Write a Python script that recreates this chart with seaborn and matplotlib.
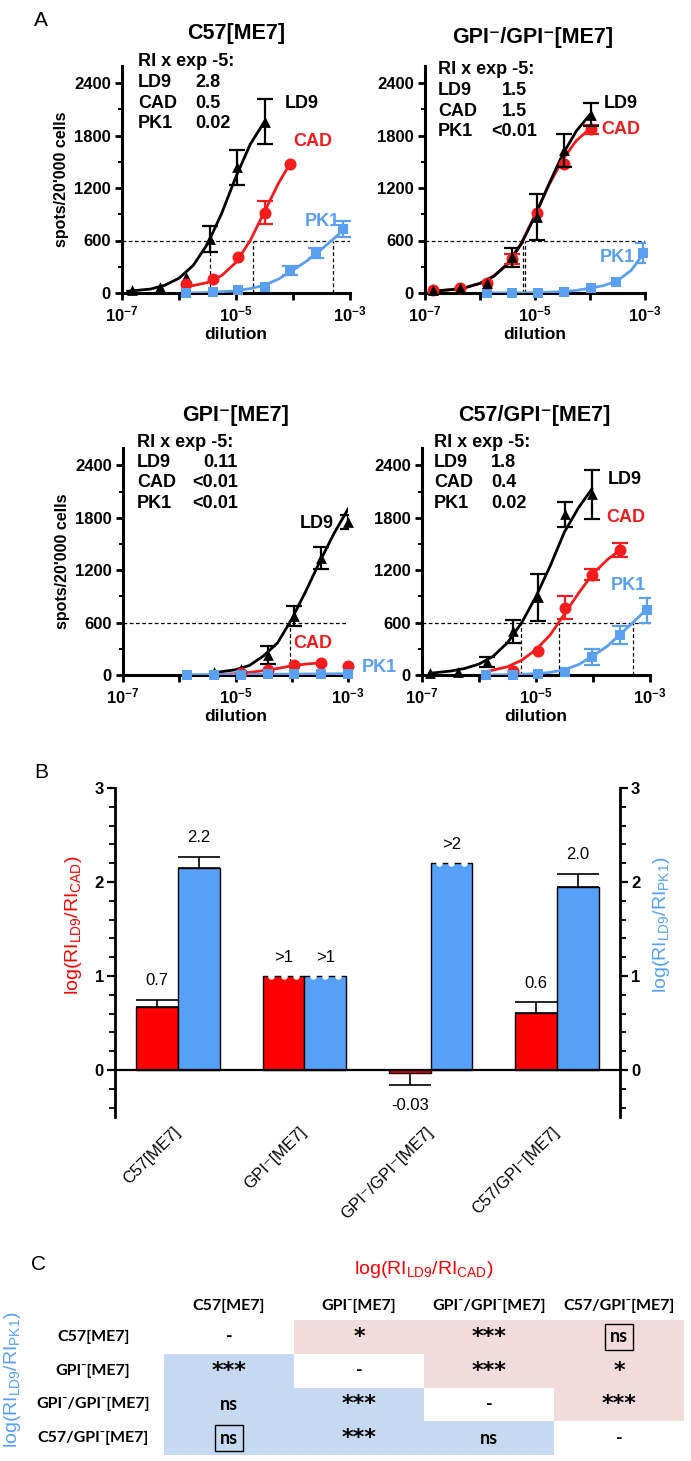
import numpy as np
import pandas as pd
import seaborn as sns
import matplotlib.pyplot as plt
from matplotlib.colors import ListedColormap
from matplotlib.ticker import MultipleLocator, FixedLocator, LogLocator, NullFormatter

# ---------------- Panel A: dose response (x = log10 dilution, y = spots/20'000 cells)
# C57[ME7]
C57_LD9_X = [-6.83, -6.34, -5.88, -5.45, -4.98, -4.50]
C57_LD9_Y = [40, 70, 180, 620, 1440, 1960]
C57_LD9_ERR = [0, 0, 0, 150, 200, 260]
C57_LD9_FIT_X = [-6.9, -6.5, -6.25, -6.0, -5.75, -5.5, -5.25, -5.0, -4.75, -4.5]
C57_LD9_FIT_Y = [20, 45, 88, 169, 316, 559, 912, 1330, 1700, 1960]
C57_CAD_X = [-5.88, -5.41, -4.96, -4.50, -4.05]
C57_CAD_Y = [100, 160, 410, 920, 1480]
C57_CAD_ERR = [0, 0, 0, 130, 0]
C57_CAD_FIT_X = [-5.9, -5.75, -5.5, -5.25, -5.0, -4.75, -4.5, -4.25, -4.05]
C57_CAD_FIT_Y = [95, 85, 120, 200, 350, 600, 930, 1260, 1480]
C57_PK1_X = [-5.88, -5.41, -4.97, -4.50, -4.05, -3.59, -3.12]
C57_PK1_Y = [0, 10, 30, 65, 260, 460, 730]
C57_PK1_ERR = [0, 0, 0, 0, 50, 55, 90]
C57_PK1_FIT_X = [-5.9, -5.5, -5.0, -4.75, -4.5, -4.25, -4.0, -3.75, -3.5, -3.25, -3.12]
C57_PK1_FIT_Y = [0, 5, 25, 50, 90, 160, 260, 370, 500, 640, 720]
C57_CROSS = [-5.45, -4.70, -3.30]
C57_RI = ['2.8', '0.5', '0.02']

# GPI-/GPI-[ME7]
GG_LD9_X = [-6.86, -6.37, -5.88, -5.41, -4.96, -4.48, -3.99]
GG_LD9_Y = [30, 55, 110, 410, 870, 1630, 2040]
GG_LD9_ERR = [0, 0, 0, 110, 260, 190, 135]
GG_LD9_FIT_X = [-6.86, -6.5, -6.25, -6.0, -5.75, -5.5, -5.25, -5.0, -4.75, -4.5, -4.25, -4.0]
GG_LD9_FIT_Y = [20, 40, 65, 110, 190, 330, 560, 880, 1240, 1580, 1850, 2040]
GG_CAD_X = [-6.86, -6.37, -5.88, -5.41, -4.96, -4.48, -3.99]
GG_CAD_Y = [30, 55, 120, 390, 920, 1480, 1870]
GG_CAD_ERR = [0, 0, 0, 60, 0, 0, 50]
GG_CAD_FIT_X = [-6.86, -6.5, -6.25, -6.0, -5.75, -5.5, -5.25, -5.0, -4.75, -4.5, -4.25, -4.0]
GG_CAD_FIT_Y = [20, 40, 65, 110, 195, 335, 570, 890, 1230, 1520, 1740, 1880]
GG_PK1_X = [-5.88, -5.41, -4.95, -4.48, -3.99, -3.52, -3.04]
GG_PK1_Y = [0, 0, 0, 15, 55, 125, 460]
GG_PK1_ERR = [0, 0, 0, 0, 0, 0, 115]
GG_PK1_FIT_X = [-5.9, -5.0, -4.5, -4.25, -4.0, -3.75, -3.5, -3.25, -3.04]
GG_PK1_FIT_Y = [0, 3, 15, 30, 55, 85, 140, 260, 440]
GG_CROSS = [-5.22, -5.18]
GG_RI = ['1.5', '1.5', '<0.01']

# GPI-[ME7]
GPI_LD9_X = [-5.39, -4.91, -4.43, -3.96, -3.48, -3.0]
GPI_LD9_Y = [40, 70, 230, 680, 1340, 1750]
GPI_LD9_ERR = [0, 0, 100, 115, 130, 80]
GPI_LD9_FIT_X = [-5.4, -5.0, -4.75, -4.5, -4.25, -4.0, -3.75, -3.5, -3.25, -3.0]
GPI_LD9_FIT_Y = [25, 60, 110, 220, 370, 640, 960, 1300, 1620, 1900]
GPI_CAD_X = [-4.91, -4.43, -3.96, -3.48, -3.0]
GPI_CAD_Y = [25, 55, 115, 140, 105]
GPI_CAD_ERR = [0, 0, 0, 0, 0]
GPI_CAD_FIT_X = [-5.4, -5.0, -4.75, -4.5, -4.25, -4.0, -3.75, -3.48]
GPI_CAD_FIT_Y = [5, 15, 30, 50, 75, 105, 125, 140]
GPI_PK1_X = [-5.86, -5.39, -4.91, -4.43, -3.96, -3.48, -3.0]
GPI_PK1_Y = [0, 5, 5, 10, 10, 15, 15]
GPI_PK1_ERR = [0, 0, 0, 0, 0, 0, 0]
GPI_PK1_FIT_X = [-5.86, -4.5, -3.0]
GPI_PK1_FIT_Y = [3, 8, 15]
GPI_CROSS = [-4.04]
GPI_RI = ['0.11', '<0.01', '<0.01']

# C57/GPI-[ME7]
CG_LD9_X = [-6.86, -6.37, -5.86, -5.40, -4.96, -4.49, -4.02]
CG_LD9_Y = [25, 40, 150, 500, 890, 1840, 2070]
CG_LD9_ERR = [0, 0, 55, 135, 270, 140, 280]
CG_LD9_FIT_X = [-6.86, -6.5, -6.25, -6.0, -5.75, -5.5, -5.25, -5.0, -4.75, -4.5, -4.25, -4.02]
CG_LD9_FIT_Y = [20, 45, 75, 125, 215, 370, 600, 900, 1250, 1640, 1920, 2130]
CG_CAD_X = [-5.40, -4.96, -4.49, -4.02, -3.53]
CG_CAD_Y = [45, 270, 770, 1150, 1430]
CG_CAD_ERR = [0, 0, 130, 60, 80]
CG_CAD_FIT_X = [-5.86, -5.5, -5.25, -5.0, -4.75, -4.5, -4.25, -4.0, -3.75, -3.53]
CG_CAD_FIT_Y = [40, 95, 170, 290, 460, 700, 940, 1160, 1320, 1430]
CG_PK1_X = [-5.88, -5.40, -4.96, -4.49, -4.02, -3.53, -3.05]
CG_PK1_Y = [0, 0, 10, 40, 210, 460, 740]
CG_PK1_ERR = [0, 0, 0, 0, 90, 100, 140]
CG_PK1_FIT_X = [-5.88, -5.5, -5.0, -4.75, -4.5, -4.25, -4.0, -3.75, -3.5, -3.3, -3.05]
CG_PK1_FIT_Y = [0, 3, 15, 30, 60, 120, 220, 330, 480, 600, 760]
CG_CROSS = [-5.26, -4.60, -3.30]
CG_RI = ['1.8', '0.4', '0.02']

# ---------------- Panel B
BAR_STRAINS = ['C57[ME7]', 'GPI⁻[ME7]', 'GPI⁻/GPI⁻[ME7]', 'C57/GPI⁻[ME7]']
LOG_LD9_CAD = [0.67, 1.0, -0.03, 0.61]
LOG_LD9_CAD_ERR = [0.08, 0.0, 0.13, 0.11]
LOG_LD9_CAD_TEXT = ['0.7', '>1', '-0.03', '0.6']
LOG_LD9_CAD_MIN = [False, True, False, False]
LOG_LD9_PK1 = [2.15, 1.0, 2.2, 1.95]
LOG_LD9_PK1_ERR = [0.12, 0.0, 0.0, 0.14]
LOG_LD9_PK1_TEXT = ['2.2', '>1', '>2', '2.0']
LOG_LD9_PK1_MIN = [False, True, True, False]

# ---------------- Panel C
TABLE_STRAINS = ['C57[ME7]', 'GPI⁻[ME7]', 'GPI⁻/GPI⁻[ME7]', 'C57/GPI⁻[ME7]']
TABLE_SIG = [['-', '*', '***', 'ns'],
             ['***', '-', '***', '*'],
             ['ns', '***', '-', '***'],
             ['ns', '***', 'ns', '-']]
TABLE_SIDE = [[0, 1, 1, 1],
              [2, 0, 1, 1],
              [2, 2, 0, 1],
              [2, 2, 2, 0]]
TABLE_BOXED = [(0, 3), (3, 0)]

RED = '#f41c1c'
BLUE = '#5a9ff0'
BAR_RED = '#ff0000'
BAR_BLUE = '#57a0f7'
W, H = 691, 1461

plt.rcParams['font.family'] = ['Liberation Sans', 'DejaVu Sans']
plt.rcParams['mathtext.fontset'] = 'custom'
plt.rcParams['mathtext.rm'] = 'Liberation Sans'
plt.rcParams['mathtext.it'] = 'Liberation Sans:italic'
plt.rcParams['mathtext.bf'] = 'Liberation Sans:bold'
plt.rcParams['mathtext.sf'] = 'Liberation Sans'

fig = plt.figure(figsize=(W / 100, H / 100), dpi=100)


def rect(l, t, r, b):
    return [l / W, 1 - b / H, (r - l) / W, (b - t) / H]


def ftext(x, y, s, **kw):
    kw.setdefault('ha', 'center')
    kw.setdefault('va', 'center')
    fig.text(x / W, 1 - y / H, s, **kw)


STYLE = {'LD9': ('black', '^', 60), 'CAD': (RED, 'o', 75), 'PK1': (BLUE, 's', 60)}

PANELS = [
    dict(box=(122, 65.5, 350, 293), title='C57[ME7]', title_xy=(236, 34), ri=C57_RI,
         ri_xy=(138, 62), ri_vx=195, ri_ha='left', cross=C57_CROSS, ylabel=True,
         lab={'LD9': (302, 103), 'CAD': (313, 142), 'PK1': (322, 222)},
         series=[('LD9', C57_LD9_X, C57_LD9_Y, C57_LD9_ERR, C57_LD9_FIT_X, C57_LD9_FIT_Y),
                 ('CAD', C57_CAD_X, C57_CAD_Y, C57_CAD_ERR, C57_CAD_FIT_X, C57_CAD_FIT_Y),
                 ('PK1', C57_PK1_X, C57_PK1_Y, C57_PK1_ERR, C57_PK1_FIT_X, C57_PK1_FIT_Y)]),
    dict(box=(425, 65.5, 645, 293), title='GPI⁻/GPI⁻[ME7]', title_xy=(533, 37), ri=GG_RI,
         ri_xy=(438, 70), ri_vx=514, ri_ha='center', cross=GG_CROSS, ylabel=False,
         lab={'LD9': (621, 103), 'CAD': (621, 130), 'PK1': (617, 257)},
         series=[('PK1', GG_PK1_X, GG_PK1_Y, GG_PK1_ERR, GG_PK1_FIT_X, GG_PK1_FIT_Y),
                 ('CAD', GG_CAD_X, GG_CAD_Y, GG_CAD_ERR, GG_CAD_FIT_X, GG_CAD_FIT_Y),
                 ('LD9', GG_LD9_X, GG_LD9_Y, GG_LD9_ERR, GG_LD9_FIT_X, GG_LD9_FIT_Y)]),
    dict(box=(123, 448, 348, 675), title='GPI⁻[ME7]', title_xy=(236, 415), ri=GPI_RI,
         ri_xy=(137, 442), ri_vx=238, ri_ha='right', cross=GPI_CROSS, ylabel=True,
         lab={'LD9': (317, 523), 'CAD': (313, 644), 'PK1': (379, 667)},
         series=[('LD9', GPI_LD9_X, GPI_LD9_Y, GPI_LD9_ERR, GPI_LD9_FIT_X, GPI_LD9_FIT_Y),
                 ('CAD', GPI_CAD_X, GPI_CAD_Y, GPI_CAD_ERR, GPI_CAD_FIT_X, GPI_CAD_FIT_Y),
                 ('PK1', GPI_PK1_X, GPI_PK1_Y, GPI_PK1_ERR, GPI_PK1_FIT_X, GPI_PK1_FIT_Y)]),
    dict(box=(422, 448, 650, 675), title='C57/GPI⁻[ME7]', title_xy=(534, 415), ri=CG_RI,
         ri_xy=(434, 442), ri_vx=491, ri_ha='left', cross=CG_CROSS, ylabel=False,
         lab={'LD9': (625, 480), 'CAD': (626, 517), 'PK1': (628, 586)},
         series=[('LD9', CG_LD9_X, CG_LD9_Y, CG_LD9_ERR, CG_LD9_FIT_X, CG_LD9_FIT_Y),
                 ('CAD', CG_CAD_X, CG_CAD_Y, CG_CAD_ERR, CG_CAD_FIT_X, CG_CAD_FIT_Y),
                 ('PK1', CG_PK1_X, CG_PK1_Y, CG_PK1_ERR, CG_PK1_FIT_X, CG_PK1_FIT_Y)]),
]

dash = (0, (3, 2))
for p in PANELS:
    ax = fig.add_axes(rect(*p['box']))
    ax.set_xscale('log')
    for name, px, py, pe, fx, fy in p['series']:
        color, marker, size = STYLE[name]
        sns.lineplot(x=10.0 ** np.array(fx), y=fy, ax=ax, color=color, linewidth=2, zorder=3)
        sns.scatterplot(x=10.0 ** np.array(px), y=py, ax=ax, color=color, marker=marker,
                        s=size, linewidth=0, zorder=4, clip_on=False)
        pe = np.array(pe)
        m = pe > 0
        if m.any():
            ax.errorbar(10.0 ** np.array(px)[m], np.array(py)[m], yerr=pe[m], fmt='none',
                        ecolor=color, elinewidth=1.6, capsize=6, capthick=1.6, zorder=4)
    ax.axhline(600, color='black', lw=0.9, ls=dash, zorder=1)
    ax.vlines(10.0 ** np.array(p['cross']), 0, 600, colors='black', lw=0.9,
              linestyles=dash, zorder=1)
    ax.set_xlim(1e-7, 1e-3)
    ax.set_ylim(0, 2600)
    ax.set_yticks([0, 600, 1200, 1800, 2400], labels=['0', '600', '1200', '1800', '2400'],
                  fontweight='bold')
    ax.yaxis.set_minor_locator(MultipleLocator(300))
    ax.xaxis.set_major_locator(FixedLocator([1e-7, 1e-6, 1e-5, 1e-4, 1e-3]))
    ax.set_xticklabels([r'$\mathbf{10^{-7}}$', '', r'$\mathbf{10^{-5}}$', '', r'$\mathbf{10^{-3}}$'])
    ax.xaxis.set_minor_locator(LogLocator(base=10, subs=[2, 3, 4, 5, 6, 7, 8, 9]))
    ax.xaxis.set_minor_formatter(NullFormatter())
    for s in ['top', 'right']:
        ax.spines[s].set_visible(False)
    for s in ['left', 'bottom']:
        ax.spines[s].set_linewidth(2.2)
    ax.tick_params(which='major', length=5, width=2, labelsize=12, pad=3)
    ax.tick_params(which='minor', length=3, width=1.4)
    ax.set_xlabel('dilution', fontsize=12.5, fontweight='bold', labelpad=2)
    if p['ylabel']:
        ax.set_ylabel("spots/20'000 cells", fontsize=11.5, fontweight='bold', labelpad=4)
    else:
        ax.set_ylabel('')

    tx, ty = p['title_xy']
    ftext(tx, ty, p['title'], fontsize=15.5, fontweight='bold')
    rx, ry = p['ri_xy']
    ftext(rx, ry, 'RI x exp -5:', ha='left', fontsize=13, fontweight='bold')
    for k, (name, val) in enumerate(zip(['LD9', 'CAD', 'PK1'], p['ri'])):
        yy = ry + 20.5 * (k + 1)
        ftext(rx, yy, name, ha='left', fontsize=13, fontweight='bold')
        ftext(p['ri_vx'], yy, val, ha=p['ri_ha'], fontsize=13, fontweight='bold')
    for name, (lx, ly) in p['lab'].items():
        ftext(lx, ly, name, color=STYLE[name][0], fontsize=13, fontweight='bold')

ftext(41, 20, 'A', fontsize=15)
ftext(41, 773, 'B', fontsize=15)
ftext(39, 1265, 'C', fontsize=15)

# ---------------- Panel B
axB = fig.add_axes(rect(115, 788, 620, 1117))
bar_df = pd.DataFrame({
    'strain': BAR_STRAINS * 2,
    'ratio': ['LD9/CAD'] * 4 + ['LD9/PK1'] * 4,
    'value': LOG_LD9_CAD + LOG_LD9_PK1,
})
sns.barplot(data=bar_df, x='strain', y='value', hue='ratio', order=BAR_STRAINS,
            hue_order=['LD9/CAD', 'LD9/PK1'], palette=[BAR_RED, BAR_BLUE], saturation=1,
            width=0.66, edgecolor='black', linewidth=1, errorbar=None, legend=False,
            ax=axB, zorder=2)
vals = (LOG_LD9_CAD, LOG_LD9_PK1)
errs = (LOG_LD9_CAD_ERR, LOG_LD9_PK1_ERR)
texts = (LOG_LD9_CAD_TEXT, LOG_LD9_PK1_TEXT)
mins = (LOG_LD9_CAD_MIN, LOG_LD9_PK1_MIN)
for bar in list(axB.patches):
    cx = bar.get_x() + bar.get_width() / 2
    i = int(round(cx))
    k = 0 if cx < i else 1
    v, e = vals[k][i], errs[k][i]
    if e > 0:
        yerr = [[0], [e]] if v >= 0 else [[e], [0]]
        axB.errorbar([cx], [v], yerr=yerr, fmt='none', ecolor='black', elinewidth=1.2,
                     capsize=15, capthick=1.2, zorder=1)
    ty = v + e + 0.2 if v >= 0 else v - e - 0.22
    axB.text(cx, ty, texts[k][i], ha='center', va='center', fontsize=12)
    if mins[k][i]:
        xs = bar.get_x() + bar.get_width() * np.array([0.2, 0.5, 0.8])
        axB.scatter(xs, [v] * 3, s=22, color='white', linewidth=0, zorder=3, clip_on=False)
axB.axhline(0, color='black', lw=1.6, zorder=3)
axB.set_xlim(-0.5, 3.5)
axB.set_ylim(-0.5, 3)
axB.set_yticks([0, 1, 2, 3], labels=['0', '1', '2', '3'], fontweight='bold')
axB.yaxis.set_minor_locator(MultipleLocator(0.2))
for s in ['top', 'bottom']:
    axB.spines[s].set_visible(False)
for s in ['left', 'right']:
    axB.spines[s].set_linewidth(2)
axB.tick_params(axis='y', which='both', left=True, right=True, labelleft=True, labelright=True)
axB.tick_params(axis='y', which='major', length=6, width=1.6, labelsize=12, pad=2)
axB.tick_params(axis='y', which='minor', length=4, width=1.3)
axB.set_xticks(range(4))
axB.set_xticklabels(BAR_STRAINS, rotation=45, ha='right', va='center',
                    rotation_mode='anchor', fontsize=12)
axB.tick_params(axis='x', length=0, pad=9)
axB.set_xlabel('')
axB.set_ylabel('')
ftext(73, 925, r'log(RI$_{\mathrm{LD9}}$/RI$_{\mathrm{CAD}}$)', rotation=90, color=BAR_RED, fontsize=14)
ftext(662, 925, r'log(RI$_{\mathrm{LD9}}$/RI$_{\mathrm{PK1}}$)', rotation=90, color=BAR_BLUE, fontsize=14)

# ---------------- Panel C
axC = fig.add_axes(rect(164, 1320, 684, 1455))
cell_cmap = ListedColormap(['white', '#f2dcdb', '#c6d9f1'])
sns.heatmap(np.array(TABLE_SIDE), cmap=cell_cmap, vmin=-0.5, vmax=2.5, cbar=False,
            annot=np.array(TABLE_SIG), fmt='',
            annot_kws=dict(fontsize=13, fontweight='bold', color='black', family=['Lato', 'DejaVu Sans']),
            xticklabels=TABLE_STRAINS, yticklabels=TABLE_STRAINS, ax=axC)
for t in axC.texts:
    x, y = t.get_position()
    if '*' in t.get_text():
        t.set(fontsize=16, family=['DejaVu Sans'])
    if (int(y), int(x)) in TABLE_BOXED:
        t.set_bbox(dict(boxstyle='square,pad=0.25', fc='none', ec='black', lw=1))
axC.xaxis.tick_top()
axC.tick_params(axis='x', length=0, pad=5)
axC.tick_params(axis='y', length=0, pad=51)
for lbl in axC.get_xticklabels():
    lbl.set(rotation=0, fontsize=11.5, fontweight='bold', family=['Lato', 'DejaVu Sans'])
for lbl in axC.get_yticklabels():
    lbl.set(rotation=0, ha='center', fontsize=11.5, fontweight='bold', family=['Lato', 'DejaVu Sans'])
ftext(424, 1270, r'log(RI$_{\mathrm{LD9}}$/RI$_{\mathrm{CAD}}$)', color=BAR_RED, fontsize=14)
ftext(13, 1380, r'log(RI$_{\mathrm{LD9}}$/RI$_{\mathrm{PK1}}$)', rotation=90, color=BAR_BLUE, fontsize=14)

fig.savefig('out.png', dpi=100)
